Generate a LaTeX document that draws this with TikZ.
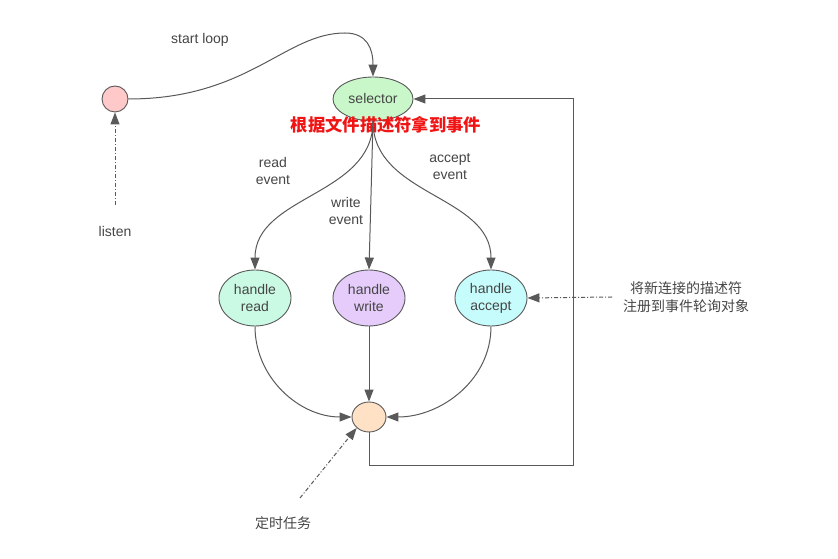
\documentclass[tikz,border=0pt]{standalone}
\usepackage{fontspec}
\usepackage{xcolor}
\usepackage{tikz}
\usetikzlibrary{arrows.meta,shapes.geometric}
\setmainfont{Liberation Sans}
\newfontfamily\cjk{Noto Sans CJK SC}
\definecolor{line}{HTML}{595959}
\definecolor{txt}{HTML}{454545}
\definecolor{redtxt}{HTML}{F01414}
\definecolor{pinkfill}{HTML}{FFC9C9}
\definecolor{greenfill}{HTML}{C9F7C9}
\definecolor{mintfill}{HTML}{CBFAE4}
\definecolor{lilacfill}{HTML}{E5CCFA}
\definecolor{cyanfill}{HTML}{C6FCFC}
\definecolor{peachfill}{HTML}{FFE1C6}
\tikzset{
  state/.style={ellipse, draw=line, line width=0.9pt, text=txt, inner sep=0pt,
    align=center, font=\fontsize{14}{17}\selectfont},
  dot/.style={circle, draw=line, line width=0.9pt, minimum size=26pt, inner sep=0pt},
  flow/.style={draw=line, line width=1pt, -{Triangle[length=12pt,width=9pt]}},
  hint/.style={flow, dash pattern=on 4pt off 2pt on 1pt off 2pt},
  lab/.style={text=txt, align=center, font=\fontsize{14}{17}\selectfont},
  cnlab/.style={text=txt, align=center, font=\cjk\fontsize{14}{18}\selectfont}
}
\begin{document}
\begin{tikzpicture}[x=1pt,y=1pt]
  \useasboundingbox (0,0) rectangle (838,559);

  % nodes
  \node[dot, fill=pinkfill] (listen) at (115,460) {};
  \node[state, fill=greenfill, minimum width=80pt, minimum height=44pt] (selector) at (373,460) {selector};
  \node[state, fill=mintfill, minimum width=72pt, minimum height=56pt] (hread) at (255,261) {handle\\read};
  \node[state, fill=lilacfill, minimum width=72pt, minimum height=56pt] (hwrite) at (369,261) {handle\\write};
  \node[state, fill=cyanfill, minimum width=72pt, minimum height=56pt] (haccept) at (491,261) {handle\\accept};
  \node[ellipse, draw=line, line width=0.9pt, fill=peachfill, minimum width=34pt, minimum height=30pt] (tick) at (369,142) {};

  % labels
  \node[lab] (startlab) at (200,519) {start loop};
  \node[lab] (listenlab) at (115,327) {listen};
  \node[lab] (readlab) at (273,388) {read\\event};
  \node[lab] (writelab) at (346,348) {write\\event};
  \node[lab] (acceptlab) at (450,392) {accept\\event};
  \node[text=redtxt, font=\cjk\bfseries\fontsize{17.3}{19}\selectfont] (fdlab) at (386,434) {根据文件描述符拿到事件};
  \node[cnlab] (reglab) at (686,262) {将新连接的描述符\\注册到事件轮询对象};
  \node[cnlab] (timerlab) at (283,36) {定时任务};

  \coordinate (listenfrom) at (115,354);
  \coordinate (regfrom) at (612,262);
  \coordinate (timerfrom) at (300,61);
  \coordinate (c1) at (369,93);
  \coordinate (c2) at (573,93);
  \coordinate (c3) at (573,460);

  % connectors
  \draw[flow] (listen.east) .. controls +(120,0) and +(-60,0) .. (345,526)
    .. controls +(22,0) and +(0,28) .. (selector.north);
  \draw[hint] (listenfrom) -- (listen.south);
  \draw[flow] (selector.south) to[out=-90,in=90] (hread.north);
  \draw[flow] (selector.south) -- (hwrite.north);
  \draw[flow] (selector.south) to[out=-90,in=90] (haccept.north);
  \draw[flow] (hread.south) to[out=-90,in=180] (tick.west);
  \draw[flow] (hwrite.south) -- (tick.north);
  \draw[flow] (haccept.south) to[out=-90,in=0] (tick.east);
  \draw[flow] (tick.south) -- (c1) -- (c2) -- (c3) -- (selector.east);
  \draw[hint] (regfrom) -- (haccept.east);
  \draw[hint] (timerfrom) -- (tick.south west);
\end{tikzpicture}
\end{document}
